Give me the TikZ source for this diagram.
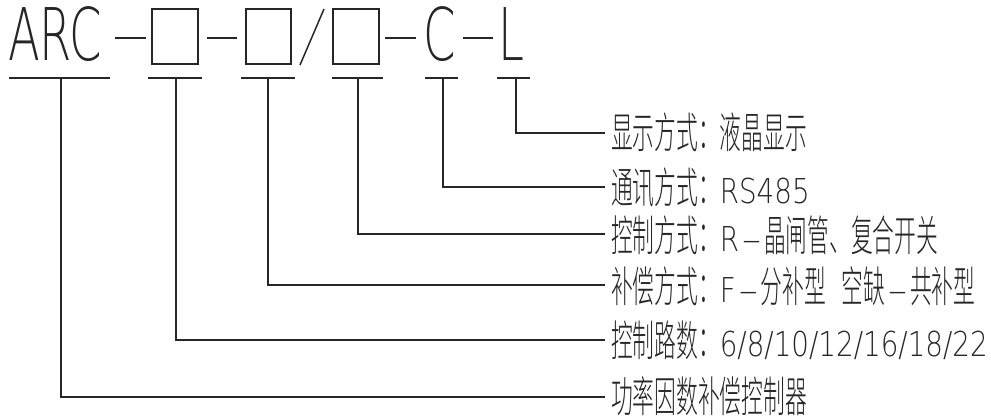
\documentclass[tikz,border=0pt]{standalone}
\usepackage{fontspec}
\usepackage{graphicx}
\newfontfamily\cjkf{Noto Sans CJK SC Light}
\newfontfamily\latf{DejaVuSans-ExtraLight.ttf}
\newcommand\cj[1]{\scalebox{0.51}[1]{\cjkf\fontsize{32}{36}\selectfont #1}}
\newcommand\la[1]{\scalebox{0.81}[1]{\latf\fontsize{25.7}{30}\selectfont #1}}
\newcommand\hy{\hspace{1.5pt}\scalebox{1.7}[1]{\latf\fontsize{25.7}{30}\selectfont -}\hspace{1.5pt}}
\newcommand\ttlbox[1]{\scalebox{0.64}[1]{\latf\fontsize{54.5}{60}\selectfont #1}}
\begin{document}
\begin{tikzpicture}[x=0.75pt,y=-0.75pt,
  ink/.style={line width=1.1pt, draw=black!85},
  row/.style={anchor=base west, inner sep=0pt, outer sep=0pt, text=black!85},
  ttl/.style={anchor=base west, inner sep=0pt, outer sep=0pt, text=black!85}]
\useasboundingbox (0,0) rectangle (991,417);
% title
\node[ttl] (arc) at (8,61) {\ttlbox{ARC}};
\node[ttl] (cc) at (423,61) {\ttlbox{C}};
\node[ttl] (ll) at (498,61) {\ttlbox{L}};
\draw[ink] (115,38) -- (146,38);
\draw[ink] (152,9) rectangle (198,64);
\draw[ink] (207,38) -- (237,38);
\draw[ink] (246,9) rectangle (291,64);
\draw[ink] (300,65) -- (324,9);
\draw[ink] (333,9) rectangle (379,64);
\draw[ink] (385,38) -- (416,38);
\draw[ink] (463,38) -- (493,38);
% underlines
\draw[ink] (9,78) -- (110,78);
\draw[ink] (148,78) -- (202,78);
\draw[ink] (241,78) -- (295,78);
\draw[ink] (332,78) -- (383,78);
\draw[ink] (425,78) -- (458,78);
\draw[ink] (497,78) -- (530,78);
% connector anchors
\coordinate (u1) at (61,78);
\coordinate (u2) at (176,78);
\coordinate (u3) at (268,78);
\coordinate (u4) at (358,78);
\coordinate (u5) at (443,78);
\coordinate (u6) at (516,78);
\coordinate (e6) at (605,133);
\coordinate (e5) at (605,187);
\coordinate (e4) at (605,234);
\coordinate (e3) at (605,285);
\coordinate (e2) at (605,340);
\coordinate (e1) at (605,397);
\draw[ink] (u6) |- (e6);
\draw[ink] (u5) |- (e5);
\draw[ink] (u4) |- (e4);
\draw[ink] (u3) |- (e3);
\draw[ink] (u2) |- (e2);
\draw[ink] (u1) |- (e1);
% labels
\node[row] (t6) at (611,149) {\cj{显示方式：液晶显示}};
\node[row] (t5) at (611,203) {\cj{通讯方式：}\la{RS485}};
\node[row] (t4) at (611,251) {\cj{控制方式：}\la{R}\hy\cj{晶闸管、复合开关}};
\node[row] (t3) at (611,302) {\cj{补偿方式：}\la{F}\hy\cj{分补型}\la{\ }\hspace{5pt}\cj{空缺}\hy\cj{共补型}};
\node[row] (t2) at (611,356) {\cj{控制路数：}\la{6/8/10/12/16/18/22}};
\node[row] (t1) at (611,412) {\cj{功率因数补偿控制器}};
\end{tikzpicture}
\end{document}
